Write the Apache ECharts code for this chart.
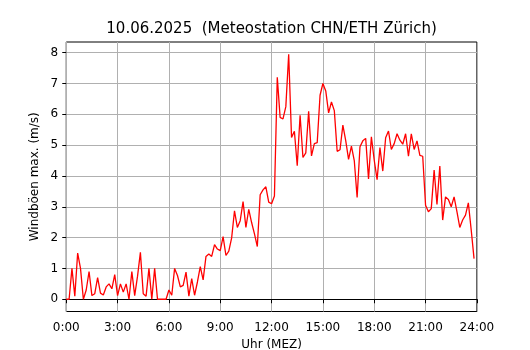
<!DOCTYPE html>
<html>
<head>
<meta charset="utf-8">
<script src="https://cdn.jsdelivr.net/npm/echarts@6/dist/echarts.min.js"></script>
<style>
  html, body { margin: 0; padding: 0; background: #fff; }
  #chart { width: 530px; height: 350px; }
</style>
</head>
<body>
<div id="chart"></div>
<script>
// Windböen max. (m/s), 10-Minuten-Werte ab 0:00
var stepMinutes = 10;
var gusts = [
  0, 0, 1.0, 0.1, 1.5, 1.0, 0, 0.3, 0.9, 0.12, 0.18, 0.7,
  0.2, 0.14, 0.4, 0.5, 0.34, 0.8, 0.12, 0.5, 0.23, 0.5, 0, 0.9,
  0.12, 0.75, 1.52, 0.18, 0.1, 1.0, 0, 1.0, 0, 0, 0, 0,
  0.3, 0.13, 1.0, 0.77, 0.4, 0.45, 0.88, 0.1, 0.67, 0.13, 0.56, 1.06,
  0.63, 1.39, 1.47, 1.39, 1.77, 1.63, 1.58, 2.03, 1.42, 1.56, 1.99, 2.87,
  2.33, 2.55, 3.17, 2.33, 2.92, 2.49, 2.12, 1.71, 3.39, 3.55, 3.65, 3.15,
  3.1, 3.35, 7.2, 5.9, 5.85, 6.25, 7.95, 5.25, 5.45, 4.33, 5.97, 4.6,
  4.75, 6.1, 4.65, 5.05, 5.08, 6.62, 7.0, 6.76, 6.05, 6.4, 6.12, 4.8,
  4.85, 5.65, 5.15, 4.54, 4.97, 4.5, 3.3, 4.95, 5.14, 5.22, 3.9, 5.27,
  4.51, 3.88, 4.92, 4.16, 5.24, 5.46, 4.86, 5.05, 5.37, 5.16, 5.03, 5.37,
  4.64, 5.37, 4.86, 5.14, 4.67, 4.64, 3.05, 2.84, 2.94, 4.19, 3.08, 4.32,
  2.57, 3.32, 3.24, 3.0, 3.32, 2.84, 2.33, 2.57, 2.73, 3.13, 2.25, 1.32
];
var xTicks = [0, 3, 6, 9, 12, 15, 18, 21, 24];
var yTicks = [0, 1, 2, 3, 4, 5, 6, 7, 8];

var data = [];
for (var i = 0; i < gusts.length; i++) {
  data.push([i * stepMinutes / 60, gusts[i]]);
}

var font = 'DejaVu Sans';
var chart = echarts.init(document.getElementById('chart'), null, { renderer: 'canvas' });

// axes box like matplotlib: x 66.25..476.9, y 42..311.5
var left = 66.25, right = 530 - 476.9;
var yMin = -0.3975, yMax = 8.3475;
var pxPerUnit = 269.5 / (yMax - yMin);
var zeroY = 311.5 + yMin * pxPerUnit;

var option = {
  animation: false,
  grid: [
    { left: left, right: right, top: 42, bottom: 38.5, show: true,
      borderColor: '#000', borderWidth: 1, backgroundColor: 'transparent' },
    { left: left, right: right, top: zeroY - 8 * pxPerUnit, bottom: 350 - zeroY }
  ],
  xAxis: [{
    type: 'value', gridIndex: 0, min: 0, max: 24, interval: 3,
    axisLine: { show: true, lineStyle: { color: '#000', width: 1 } },
    axisTick: { show: true, length: 4, lineStyle: { color: '#000', width: 1 } },
    axisLabel: { margin: 10, color: '#000', fontFamily: font, fontSize: 12,
      formatter: function (v) { return xTicks.indexOf(v) >= 0 ? v + ':00' : ''; } },
    splitLine: { show: true, lineStyle: { color: '#b0b0b0', width: 1 } }
  }, {
    type: 'value', gridIndex: 1, min: 0, max: 24, show: false
  }],
  yAxis: [{
    type: 'value', gridIndex: 0, min: yMin, max: yMax, show: false
  }, {
    type: 'value', gridIndex: 1, min: 0, max: 8, interval: 1,
    axisLine: { show: false },
    axisTick: { show: true, length: 4, lineStyle: { color: '#000', width: 1 } },
    axisLabel: { margin: 8, color: '#000', fontFamily: font, fontSize: 12,
      formatter: function (v) { return yTicks.indexOf(v) >= 0 ? String(v) : ''; } },
    splitLine: { show: true, lineStyle: { color: '#b0b0b0', width: 1 } }
  }],
  graphic: [
    { type: 'text', x: 271.6, y: 29, style: { text: '10.06.2025  (Meteostation CHN/ETH Zürich)',
      font: '15px "DejaVu Sans"', fill: '#000', textAlign: 'center', textVerticalAlign: 'middle' } },
    { type: 'text', x: 271.6, y: 344.5, style: { text: 'Uhr (MEZ)',
      font: '12px "DejaVu Sans"', fill: '#000', textAlign: 'center', textVerticalAlign: 'middle' } },
    { type: 'text', x: 35, y: 176.75, rotation: Math.PI / 2, style: { text: 'Windböen max. (m/s)',
      font: '12px "DejaVu Sans"', fill: '#000', textAlign: 'center', textVerticalAlign: 'middle' } }
  ],
  series: [{
    type: 'line', xAxisIndex: 0, yAxisIndex: 0,
    data: data, showSymbol: false, symbol: 'none',
    lineStyle: { color: '#ff0000', width: 1.3 }
  }]
};

chart.setOption(option);
</script>
</body>
</html>
